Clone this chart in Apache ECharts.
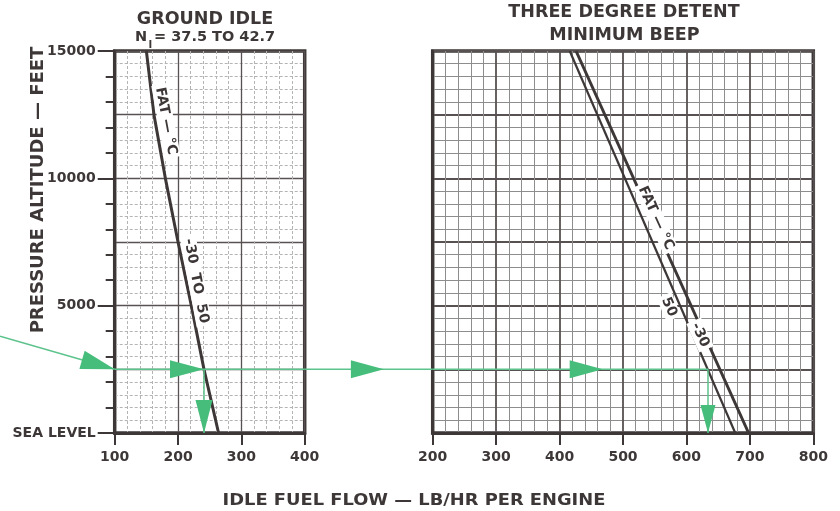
<!DOCTYPE html>
<html>
<head>
<meta charset="utf-8">
<script src="https://cdn.jsdelivr.net/npm/echarts@6/dist/echarts.min.js"></script>
<style>
  html, body { margin: 0; padding: 0; background: #ffffff; }
  #chart { width: 840px; height: 511px; }
</style>
</head>
<body>
<div id="chart"></div>
<script>
// ---- Ground idle (N1 = 37.5 to 42.7): one line covers FAT -30 to 50 °C ----
const groundIdleAlt  = [15000, 12500, 10000, 7500, 5000, 2500, 0];
const groundIdleFlow = [150, 162, 180, 200, 221, 241, 264];

// ---- Three degree detent, minimum beep: one line per FAT ----
const detentAlt     = [15000, 0];
const detentFlow50  = [416, 677];   // FAT 50 °C
const detentFlowM30 = [426, 698];   // FAT -30 °C

// ---- Axis ticks ----
const groundIdleTicks = [100, 200, 300, 400];
const detentTicks     = [200, 300, 400, 500, 600, 700, 800];
const altitudeTicks   = [0, 5000, 10000, 15000];

// ---- Worked example (green path) ----
const exampleAlt       = 2500;
const exampleEntry     = [-81, 3800];  // where the path enters, on ground-idle axes
const groundIdleResult = 241;          // lb/hr read at ground idle
const detentResult     = 634;          // lb/hr read at three degree detent
const gapArrowTip      = 123;          // arrowhead between panels, on detent axis
const detentArrowTip   = 468;          // arrowhead inside detent panel

const INK = '#3d3737';
const GREEN = '#46bd7b';
const GREEN_LINE = '#5cc38c';
const FONT = 'DejaVu Sans';

const chart = echarts.init(document.getElementById('chart'));

function xAxisFor(gridIndex, ticks, heavy) {
  return {
    gridIndex: gridIndex, type: 'value',
    min: ticks[0], max: ticks[ticks.length - 1], interval: ticks[1] - ticks[0],
    axisLine: { show: true, onZero: false, lineStyle: { color: INK, width: 3 } },
    axisTick: { show: true, length: 12, lineStyle: { color: INK, width: 2 } },
    axisLabel: { color: INK, fontFamily: FONT, fontWeight: 'bold', fontSize: 14, margin: 17 },
    splitLine: { show: true, lineStyle: { color: '#575151', width: heavy ? 1.8 : 1.3 } },
    minorTick: { show: false, splitNumber: 5 },
    minorSplitLine: { show: true, lineStyle: { color: heavy ? '#8d8d8d' : '#b4b4b4', width: 1, type: heavy ? 'solid' : [3, 2] } }
  };
}
function yGridAxis(gridIndex, heavy) {
  return {
    gridIndex: gridIndex, type: 'value', position: 'left',
    min: altitudeTicks[0], max: altitudeTicks[altitudeTicks.length - 1], interval: 2500,
    axisLine: { show: true, onZero: false, lineStyle: { color: INK, width: 3 } },
    axisTick: { show: false }, axisLabel: { show: false },
    splitLine: { show: true, lineStyle: { color: '#575151', width: heavy ? 1.8 : 1.3 } },
    minorTick: { show: false, splitNumber: 5 },
    minorSplitLine: { show: true, lineStyle: { color: heavy ? '#8d8d8d' : '#b4b4b4', width: 1, type: heavy ? 'solid' : [3, 2] } }
  };
}

const lineSeries = (xi, yi, xs, ys, color, width, z) => ({
  type: 'line', xAxisIndex: xi, yAxisIndex: yi, silent: true, symbol: 'none', z: z,
  clip: false, animation: false,
  data: xs.map((x, i) => [x, ys[i]]),
  lineStyle: { color: color, width: width }
});

chart.setOption({
  backgroundColor: '#ffffff',
  animation: false,
  grid: [
    { left: 114.7, top: 51, width: 190, height: 382, show: true, borderColor: INK, borderWidth: 3.5, backgroundColor: 'transparent' },
    { left: 432.7, top: 51, width: 380.6, height: 382, show: true, borderColor: INK, borderWidth: 3.5, backgroundColor: 'transparent' }
  ],
  xAxis: [
    xAxisFor(0, groundIdleTicks, false),
    xAxisFor(1, detentTicks, true)
  ],
  yAxis: [
    yGridAxis(0, false),
    {
      gridIndex: 0, type: 'value', position: 'left',
      min: altitudeTicks[0], max: altitudeTicks[altitudeTicks.length - 1], interval: 5000,
      axisLine: { show: false },
      axisTick: { show: true, length: 17, lineStyle: { color: INK, width: 2 } },
      axisLabel: {
        color: INK, fontFamily: FONT, fontWeight: 'bold', fontSize: 14, margin: 19,
        formatter: v => (v === 0 ? 'SEA LEVEL' : String(v))
      },
      splitLine: { show: false }
    },
    {
      gridIndex: 0, type: 'value', position: 'left',
      min: altitudeTicks[0], max: altitudeTicks[altitudeTicks.length - 1], interval: 1000,
      axisLine: { show: false },
      axisTick: { show: true, length: 9, lineStyle: { color: INK, width: 2 } },
      axisLabel: { show: false }, splitLine: { show: false }
    },
    yGridAxis(1, true)
  ],
  series: [
    lineSeries(0, 0, groundIdleFlow, groundIdleAlt, INK, 3, 5),
    lineSeries(1, 3, detentFlow50, detentAlt, INK, 2.2, 5),
    lineSeries(1, 3, detentFlowM30, detentAlt, INK, 3, 5),
    lineSeries(0, 0, [groundIdleTicks[0], groundIdleTicks[groundIdleTicks.length - 1]], [exampleAlt, exampleAlt], GREEN_LINE, 1.5, 6),
    lineSeries(0, 0, [groundIdleResult, groundIdleResult], [exampleAlt, 0], GREEN_LINE, 1.5, 6),
    lineSeries(1, 3, [detentTicks[0], detentResult], [exampleAlt, exampleAlt], GREEN_LINE, 1.5, 6),
    lineSeries(1, 3, [detentResult, detentResult], [exampleAlt, 0], GREEN_LINE, 1.5, 6)
  ]
});

// ---- overlay: connecting path, arrowheads, line labels, titles ----
const P0 = p => chart.convertToPixel({ xAxisIndex: 0, yAxisIndex: 0 }, p);
const P1 = p => chart.convertToPixel({ xAxisIndex: 1, yAxisIndex: 3 }, p);

function arrowHead(tip, from, len, half) {
  const dx = tip[0] - from[0], dy = tip[1] - from[1];
  const d = Math.hypot(dx, dy), ux = dx / d, uy = dy / d;
  const bx = tip[0] - ux * len, by = tip[1] - uy * len;
  return {
    type: 'polygon', z: 20, silent: true,
    shape: { points: [tip, [bx - uy * half, by + ux * half], [bx + uy * half, by - ux * half]] },
    style: { fill: GREEN }
  };
}
function angleOf(a, b) { return Math.atan2(b[1] - a[1], b[0] - a[0]); }
function lineLabel(text, pos, ang, size) {
  return {
    type: 'text', z: 15, silent: true, x: pos[0], y: pos[1], rotation: -ang,
    style: {
      text: text, fill: INK, font: 'bold ' + size + 'px "' + FONT + '"',
      align: 'center', verticalAlign: 'middle',
      backgroundColor: '#ffffff', padding: [1, 3]
    }
  };
}
function label(text, x, y, size, opts) {
  return Object.assign({
    type: 'text', z: 15, silent: true, x: x, y: y,
    style: {
      text: text, fill: INK, font: 'bold ' + size + 'px "' + FONT + '"',
      align: 'center', verticalAlign: 'middle'
    }
  }, opts || {});
}
function leftText(text, x, y, size) {
  return {
    type: 'text', z: 15, silent: true, x: x, y: y,
    style: { text: text, fill: INK, font: 'bold ' + size + 'px "' + FONT + '"', align: 'left', verticalAlign: 'middle' }
  };
}

const entryStart = P0(exampleEntry);
const entryEnd = P0([groundIdleTicks[0], exampleAlt]);
const leftEdge = P0([groundIdleTicks[groundIdleTicks.length - 1], exampleAlt]);
const rightStart = P1([detentTicks[0], exampleAlt]);
const giHit = P0([groundIdleResult, exampleAlt]);
const giFloor = P0([groundIdleResult, 0]);
const gapTip = P1([gapArrowTip, exampleAlt]);
const dtTip = P1([detentArrowTip, exampleAlt]);
const dtFloor = P1([detentResult, 0]);
const dtHit = P1([detentResult, exampleAlt]);

const giAng = angleOf(P0([groundIdleFlow[0], groundIdleAlt[0]]), P0([groundIdleFlow[groundIdleFlow.length - 1], 0]));
const dt50Ang = angleOf(P1([detentFlow50[0], detentAlt[0]]), P1([detentFlow50[1], detentAlt[1]]));
const dtM30Ang = angleOf(P1([detentFlowM30[0], detentAlt[0]]), P1([detentFlowM30[1], detentAlt[1]]));

const graphics = [
  { type: 'line', z: 6, silent: true, shape: { x1: entryStart[0], y1: entryStart[1], x2: entryEnd[0], y2: entryEnd[1] }, style: { stroke: GREEN_LINE, lineWidth: 1.5 } },
  { type: 'line', z: 6, silent: true, shape: { x1: leftEdge[0], y1: leftEdge[1], x2: rightStart[0], y2: rightStart[1] }, style: { stroke: GREEN_LINE, lineWidth: 1.5 } },
  arrowHead(entryEnd, entryStart, 34, 9.5),
  arrowHead(giHit, [giHit[0] - 10, giHit[1]], 34, 9),
  arrowHead(gapTip, [gapTip[0] - 10, gapTip[1]], 33, 9),
  arrowHead(dtTip, [dtTip[0] - 10, dtTip[1]], 33, 9),
  arrowHead(giFloor, giHit, 33, 8.5),
  arrowHead(dtFloor, dtHit, 28, 7.5),

  lineLabel('FAT — °C', P0([181, 12250]), giAng, 14),
  lineLabel('-30  TO  50', P0([228.5, 5970]), giAng, 14),
  lineLabel('FAT — °C', P1([552, 8440]), dtM30Ang, 14),
  lineLabel('50', P1([572.5, 4950]), dt50Ang, 14),
  lineLabel('-30', P1([621.5, 3850]), dtM30Ang, 14),

  label('GROUND IDLE', 205, 19, 17.5),
  leftText('N', 135, 37, 14.5),
  leftText('I', 148.5, 45, 10),
  leftText('= 37.5 TO 42.7', 154, 37, 14.5),
  label('THREE DEGREE DETENT', 624, 12, 17.5),
  label('MINIMUM BEEP', 624.5, 35, 17.5),
  label('IDLE FUEL FLOW — LB/HR PER ENGINE', 414, 501, 16, { scaleX: 1.115 }),
  label('PRESSURE ALTITUDE — FEET', 38, 190, 18, { rotation: Math.PI / 2 })
];

chart.setOption({ graphic: graphics });
</script>
</body>
</html>
